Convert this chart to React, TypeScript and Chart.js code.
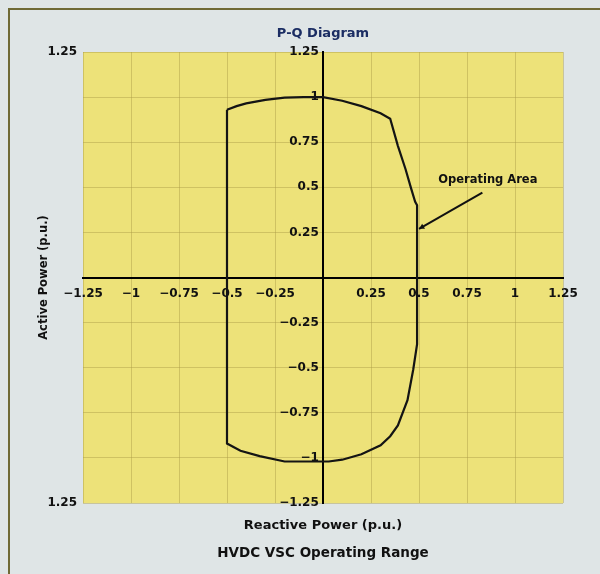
import React, { useEffect, useRef } from 'react';
import { Chart, registerables } from 'chart.js';

Chart.register(...registerables);

// Operating boundary of the converter: reactive power Q (x) and active power P (y), p.u.
const Q_VALUES = [
  -0.5, -0.45, -0.4, -0.3, -0.2, -0.1, 0, 0.1, 0.2, 0.3, 0.35,
  0.39, 0.43, 0.46, 0.48, 0.49,
  0.49, 0.47, 0.44, 0.39, 0.35,
  0.3, 0.2, 0.1, 0.03, -0.2, -0.33, -0.43, -0.5, -0.5,
];
const P_VALUES = [
  0.93, 0.95, 0.965, 0.985, 0.997, 1.0, 1.0, 0.98, 0.95, 0.91, 0.88,
  0.73, 0.6, 0.49, 0.42, 0.4,
  -0.37, -0.51, -0.68, -0.82, -0.88,
  -0.93, -0.98, -1.01, -1.02, -1.02, -0.99, -0.96, -0.92, 0.93,
];

const AXIS_MIN = -1.25;
const AXIS_MAX = 1.25;
const AXIS_STEP = 0.25;
const EDGE_LABEL_STEP = 1.25;

const TITLE = 'P-Q Diagram';
const X_TITLE = 'Reactive Power (p.u.)';
const Y_TITLE = 'Active Power (p.u.)';
const CAPTION = 'HVDC VSC Operating Range';

const ANNOTATION_TEXT = 'Operating Area';
const ANNOTATION_LABEL_Q = 0.6;
const ANNOTATION_LABEL_P = 0.54;
const ARROW_FROM_Q = 0.83;
const ARROW_FROM_P = 0.47;
const ARROW_TO_Q = 0.5;
const ARROW_TO_P = 0.27;

const FONT = '"DejaVu Sans", "Liberation Sans", Arial, sans-serif';
const PLOT_BG = 'rgb(237,226,121)';
const GRID = 'rgba(170,155,70,0.45)';
const INK = '#111111';

const fmtTick = (v: number) => {
  if (Math.abs(v) < 1e-9) return '';
  const a = Math.round(Math.abs(v) * 100) / 100;
  return (v < 0 ? '\u2212' : '') + String(a);
};

const plotBackground = {
  id: 'plotBackground',
  beforeDraw(chart: any) {
    const { ctx, chartArea } = chart;
    ctx.save();
    ctx.fillStyle = PLOT_BG;
    ctx.fillRect(chartArea.left, chartArea.top, chartArea.right - chartArea.left, chartArea.bottom - chartArea.top);
    ctx.restore();
  },
};

const annotation = {
  id: 'annotation',
  afterDatasetsDraw(chart: any) {
    const { ctx, scales } = chart;
    const sx = scales.x;
    const sy = scales.y;
    ctx.save();
    ctx.font = `bold 11.5px ${FONT}`;
    ctx.fillStyle = INK;
    ctx.textAlign = 'left';
    ctx.textBaseline = 'middle';
    ctx.fillText(ANNOTATION_TEXT, sx.getPixelForValue(ANNOTATION_LABEL_Q), sy.getPixelForValue(ANNOTATION_LABEL_P));
    const x1 = sx.getPixelForValue(ARROW_FROM_Q);
    const y1 = sy.getPixelForValue(ARROW_FROM_P);
    const x2 = sx.getPixelForValue(ARROW_TO_Q);
    const y2 = sy.getPixelForValue(ARROW_TO_P);
    ctx.strokeStyle = INK;
    ctx.lineWidth = 2;
    ctx.beginPath();
    ctx.moveTo(x1, y1);
    ctx.lineTo(x2, y2);
    ctx.stroke();
    const ang = Math.atan2(y2 - y1, x2 - x1);
    const len = 6;
    ctx.beginPath();
    ctx.moveTo(x2, y2);
    ctx.lineTo(x2 - len * Math.cos(ang - 0.5), y2 - len * Math.sin(ang - 0.5));
    ctx.lineTo(x2 - len * Math.cos(ang + 0.5), y2 - len * Math.sin(ang + 0.5));
    ctx.closePath();
    ctx.fillStyle = INK;
    ctx.fill();
    ctx.restore();
  },
};

export default function App() {
  const canvasRef = useRef<HTMLCanvasElement | null>(null);

  useEffect(() => {
    const canvas = canvasRef.current;
    if (!canvas) return;
    const points = Q_VALUES.map((q, i) => ({ x: q, y: P_VALUES[i] }));
    const tickFont = { family: FONT, size: 12, weight: 'bold' as const };

    const chart = new Chart(canvas, {
      type: 'scatter',
      data: {
        datasets: [
          {
            data: points,
            showLine: true,
            borderColor: '#141414',
            borderWidth: 2.2,
            pointRadius: 0,
            fill: false,
            tension: 0,
            xAxisID: 'x',
            yAxisID: 'y',
          },
        ],
      },
      options: {
        responsive: false,
        devicePixelRatio: 1,
        animation: false,
        layout: { padding: { left: 20, right: 37, top: 0, bottom: 0 } },
        plugins: {
          legend: { display: false },
          tooltip: { enabled: false },
          title: {
            display: true,
            text: TITLE,
            color: '#1b2d63',
            fullSize: false,
            font: { family: FONT, size: 13, weight: 'bold' },
            padding: { top: 25.5, bottom: 10.9 },
          },
          subtitle: {
            display: true,
            text: CAPTION,
            position: 'bottom',
            color: INK,
            fullSize: false,
            font: { family: FONT, size: 13.5, weight: 'bold' },
            padding: { top: 0, bottom: 12.9 },
          },
        },
        scales: {
          x: {
            type: 'linear',
            position: { y: 0 } as any,
            min: AXIS_MIN,
            max: AXIS_MAX,
            ticks: {
              stepSize: AXIS_STEP,
              autoSkip: false,
              maxRotation: 0,
              callback: (v: any) => fmtTick(Number(v)),
              font: tickFont,
              color: INK,
              padding: 9,
            },
            grid: { color: GRID, lineWidth: 1, drawTicks: false },
            border: { display: true, color: '#000', width: 2 },
          },
          y: {
            type: 'linear',
            position: { x: 0 } as any,
            min: AXIS_MIN,
            max: AXIS_MAX,
            ticks: {
              stepSize: AXIS_STEP,
              autoSkip: false,
              // trailing space keeps the right-aligned labels clear of the axis line
              callback: (v: any) => {
                const s = fmtTick(Number(v));
                return s ? s + ' ' : '';
              },
              font: tickFont,
              color: INK,
              padding: 5,
            },
            grid: { color: GRID, lineWidth: 1, drawTicks: false },
            border: { display: true, color: '#000', width: 2 },
          },
          xb: {
            type: 'linear',
            position: 'bottom',
            min: AXIS_MIN,
            max: AXIS_MAX,
            ticks: { display: false },
            grid: { display: false, drawTicks: false },
            border: { display: false },
            title: {
              display: true,
              text: X_TITLE,
              color: INK,
              font: { family: FONT, size: 13, weight: 'bold' },
              padding: { top: 0, bottom: 11 },
            },
            afterFit: (s: any) => {
              s.height = 41.9;
            },
          },
          yl: {
            type: 'linear',
            position: 'left',
            min: AXIS_MIN,
            max: AXIS_MAX,
            ticks: {
              stepSize: EDGE_LABEL_STEP,
              autoSkip: false,
              callback: (v: any) => (Math.abs(Math.abs(Number(v)) - EDGE_LABEL_STEP) < 1e-9 ? '1.25' : ''),
              font: tickFont,
              color: INK,
              padding: 6,
            },
            grid: { display: false, drawTicks: false },
            border: { display: false },
            title: {
              display: true,
              text: Y_TITLE,
              color: INK,
              font: { family: FONT, size: 11.5, weight: 'bold' },
              padding: { top: 17, bottom: 0 },
            },
            afterFit: (s: any) => {
              s.width = 63;
            },
          },
        },
      } as any,
      plugins: [plotBackground, annotation],
    });

    return () => chart.destroy();
  }, []);

  return (
    <div
      style={{
        position: 'fixed',
        left: 0,
        top: 0,
        width: 600,
        height: 574,
        background: '#dfe5e6',
        overflow: 'hidden',
      }}
    >
      <div
        style={{
          position: 'absolute',
          left: 8,
          top: 8,
          right: 0,
          bottom: 0,
          borderLeft: '2px solid #6f6a35',
          borderTop: '2px solid #6f6a35',
        }}
      />
      <canvas
        ref={canvasRef}
        width={600}
        height={574}
        style={{ position: 'absolute', left: 0, top: 0, width: 600, height: 574 }}
      />
    </div>
  );
}
